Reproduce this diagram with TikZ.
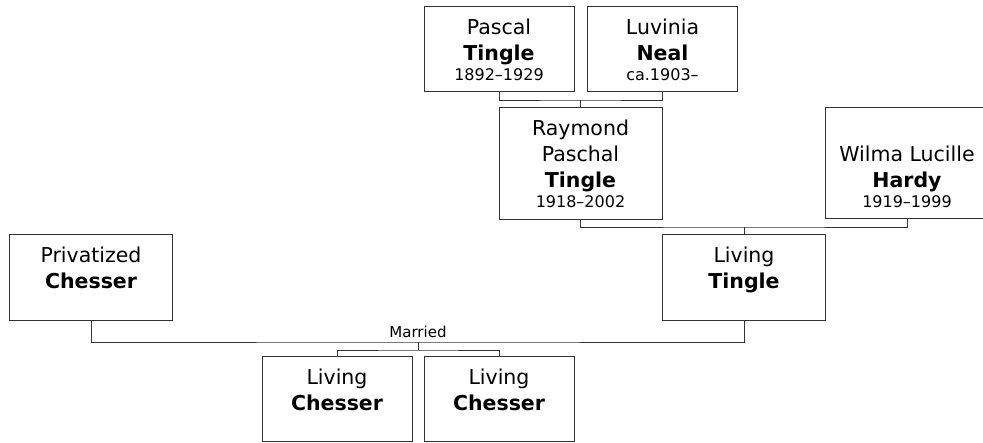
\documentclass[tikz,border=0pt]{standalone}
\usepackage{fontspec}
\setmainfont{DejaVu Sans}
\newcommand{\lifespan}[1]{{\fontsize{16}{20}\selectfont #1}}

\begin{document}
\begin{tikzpicture}[
    x=1pt, y=-1pt,
    font=\fontsize{20.5}{26}\selectfont,
    person/.style={rectangle, draw=black!80, line width=1pt, fill=white, align=center, inner sep=0pt},
    wide/.style={person, minimum width=163pt},
    narrow/.style={person, minimum width=150pt},
    link/.style={draw=black!80, line width=0.9pt}
]
    \path[use as bounding box, fill=white] (0,0) rectangle (983,443);

    % Grandparents
    \node[narrow, minimum height=85pt] (pascal) at (499, 49.5) {Pascal\\\textbf{Tingle}\\[-6pt]\lifespan{1892–1929}};
    \node[narrow, minimum height=85pt] (luvinia) at (662.5, 49.5) {Luvinia\\\textbf{Neal}\\[-6pt]\lifespan{ca.1903–}};

    % Parents of Living Tingle
    \node[wide, minimum height=112pt] (raymond) at (580.5, 164) {Raymond\\Paschal\\\textbf{Tingle}\\[-6pt]\lifespan{1918–2002}};
    \node[wide, minimum height=111pt] (wilma) at (907, 163.5) {\vphantom{Raymond}\\Wilma Lucille\\\textbf{Hardy}\\[-6pt]\lifespan{1919–1999}};

    % Couple
    \node[wide, minimum height=86pt] (privchesser) at (91, 278) {Privatized\\\textbf{Chesser}\\[-6pt]\mbox{}};
    \node[wide, minimum height=86pt] (livtingle) at (744, 278) {Living\\\textbf{Tingle}\\[-6pt]\mbox{}};

    % Children
    \node[narrow, minimum height=85pt] (chesser1) at (337, 399.5) {Living\\\textbf{Chesser}\\[-6pt]\mbox{}};
    \node[narrow, minimum height=85pt] (chesser2) at (499, 399.5) {Living\\\textbf{Chesser}\\[-6pt]\mbox{}};

    % Junction points of the family lines
    \coordinate (pl) at (580.5, 100);
    \coordinate (rw) at (744, 227);
    \coordinate (mar) at (418, 342);
    \coordinate (kids) at (418, 350);

    \draw[link] (pascal.south) |- (pl) -| (luvinia.south);
    \draw[link] (pl) -- (raymond.north);
    \draw[link] (raymond.south) |- (rw) -| (wilma.south);
    \draw[link] (rw) -- (livtingle.north);
    \draw[link] (privchesser.south) |- (mar) -| (livtingle.south);
    \node[above=1pt, font=\fontsize{15}{18}\selectfont] (married) at (mar) {Married};
    \draw[link] (mar) -- (kids);
    \draw[link] (chesser1.north) |- (kids) -| (chesser2.north);
\end{tikzpicture}
\end{document}
